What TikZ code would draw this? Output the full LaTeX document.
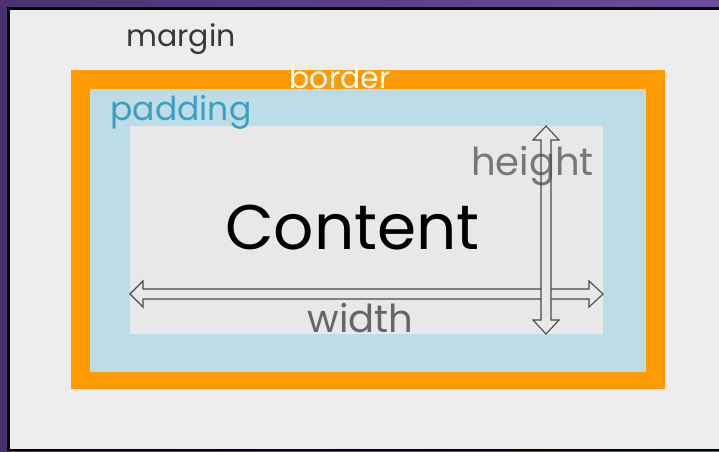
\documentclass[tikz,border=0pt]{standalone}
\usepackage{fontspec}
\setmainfont{Poppins}
\usetikzlibrary{shadings}
\definecolor{purpL}{HTML}{4A3270}
\definecolor{purpR}{HTML}{6B4D9D}
\definecolor{marginbg}{HTML}{EDEDED}
\definecolor{contentbg}{HTML}{E8E8E8}
\definecolor{borderor}{HTML}{FF9A00}
\definecolor{paddingbl}{HTML}{BCDDE8}
\definecolor{paddingtx}{HTML}{3D9EC0}
\definecolor{margintx}{HTML}{383838}
\definecolor{heighttx}{HTML}{777777}
\definecolor{widthtx}{HTML}{666666}
\definecolor{arrowln}{HTML}{4A4A4A}
\tikzset{
  lbl/.style={inner sep=0pt, anchor=base},
  dimarrow/.style={draw=arrowln, line width=1.1pt, line join=miter},
}
\begin{document}
\begin{tikzpicture}[x=1pt,y=-1pt]
\useasboundingbox (0,0) rectangle (719,451);
% frame
\shade[left color=purpL, right color=purpR] (0,0) rectangle (719,451);
\fill[black] (7,7) rectangle (719,451);
\fill[marginbg] (10,10) rectangle (719,449);
% boxes
\fill[borderor] (71,70) rectangle (665,389);
\fill[paddingbl] (90,89) rectangle (646,372);
\fill[contentbg] (130,126) rectangle (603,334);
% labels
\node[lbl, text=white, font=\fontsize{30}{30}\selectfont] (border) at (340,88) {border};
\node[lbl, text=margintx, font=\fontsize{30}{30}\selectfont] (margin) at (181,46.5) {margin};
\node[lbl, text=paddingtx, font=\fontsize{33}{33}\selectfont] (padding) at (181,120.5) {padding};
\node[lbl, text=black, font=\fontsize{63}{63}\selectfont] (content) at (352.5,249) {Content};
\node[lbl, text=widthtx, font=\fontsize{38.5}{38.5}\selectfont] (width) at (360.5,332) {width};
% horizontal arrow
\draw[dimarrow, fill=contentbg] (130,294) -- (143,281) -- (143,289) -- (589,289) -- (589,281) -- (603,294)
  -- (589,307) -- (589,299) -- (143,299) -- (143,307) -- cycle;
% vertical arrow
\fill[contentbg] (546,126) -- (559,140) -- (551,140) -- (551,320) -- (559,320) -- (546,334)
  -- (533,320) -- (541,320) -- (541,140) -- (533,140) -- cycle;
\node[lbl, text=heighttx, font=\fontsize{38.5}{38.5}\selectfont] (height) at (532.5,175) {height};
\draw[dimarrow] (546,126) -- (559,140) -- (551,140) -- (551,320) -- (559,320) -- (546,334)
  -- (533,320) -- (541,320) -- (541,140) -- (533,140) -- cycle;
\end{tikzpicture}
\end{document}
